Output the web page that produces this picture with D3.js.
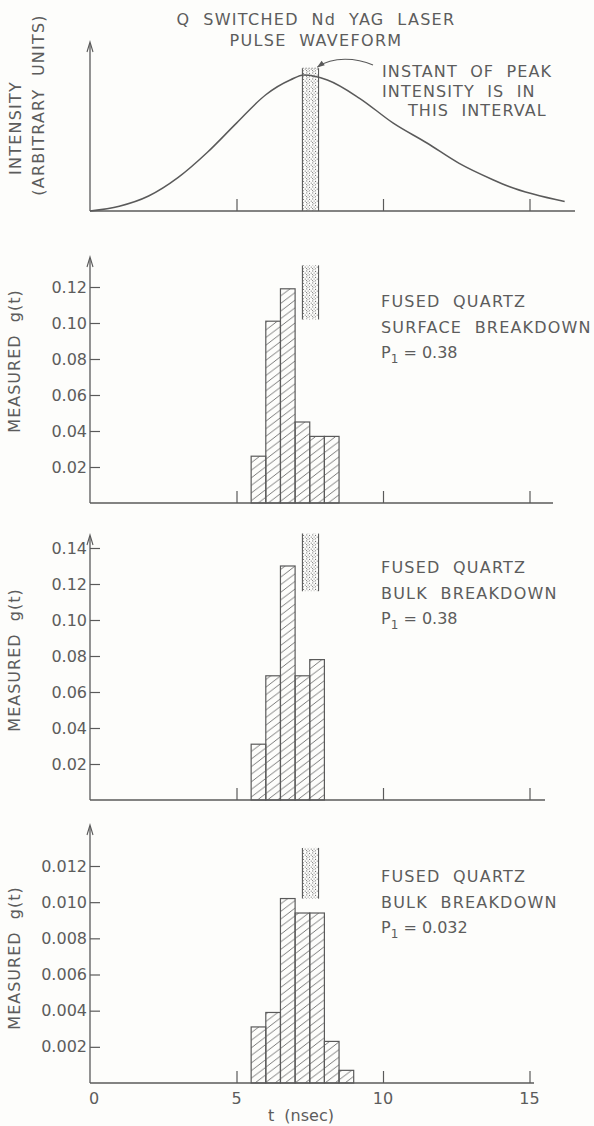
<!DOCTYPE html>
<html>
<head>
<meta charset="utf-8">
<script src="https://cdn.jsdelivr.net/npm/d3@7"></script>
<style>
  html, body { margin: 0; padding: 0; background: #fdfdfb; }
  svg { display: block; }
  text { font-family: "DejaVu Sans", "Liberation Sans", sans-serif; fill: #5c5c5c; }
</style>
</head>
<body>
<svg id="chart" width="594" height="1126"></svg>
<script>
// ---- data ----
// Q-switched Nd:YAG pulse waveform (time in ns, intensity in arbitrary units)
const pulseTime      = [0, 1, 2, 3, 4, 5, 6, 6.85, 7.3, 8.1, 9.2, 10.35, 11.5, 12.6, 13.75, 14.3, 16.2];
const pulseIntensity = [0, 0.035, 0.11, 0.245, 0.43, 0.646, 0.855, 0.965, 1.0, 0.963, 0.829, 0.646, 0.5, 0.35, 0.23, 0.18, 0.07];

// histogram bins: 0.5 ns wide, starting at these times
const binStarts = [5.5, 6.0, 6.5, 7.0, 7.5, 8.0, 8.5];
const binWidth = 0.5;

// measured g(t) for each case
const surfaceG  = [0.026, 0.101, 0.119, 0.045, 0.037, 0.037];
const bulkHighG = [0.031, 0.069, 0.130, 0.069, 0.078];
const bulkLowG  = [0.0031, 0.0039, 0.0102, 0.0094, 0.0094, 0.0023, 0.0007];

// interval containing the instant of peak intensity (ns)
const peakInterval = [7.25, 7.8];
// vertical span of the peak-interval marker in each histogram (g units)
const surfaceMarker  = [0.102, 0.132];
const bulkHighMarker = [0.116, 0.148];
const bulkLowMarker  = [0.0102, 0.0130];

// tick values
const timeTicks = [5, 10, 15];
const timeTickLabels = ["0", "5", "10", "15"];
const surfaceTicks  = [0.02, 0.04, 0.06, 0.08, 0.10, 0.12];
const bulkHighTicks = [0.02, 0.04, 0.06, 0.08, 0.10, 0.12, 0.14];
const bulkLowTicks  = [0.002, 0.004, 0.006, 0.008, 0.010, 0.012];

// labels
const titleLines = ["Q  SWITCHED  Nd  YAG  LASER", "PULSE  WAVEFORM"];
const noteLines = ["INSTANT  OF  PEAK", "INTENSITY  IS  IN", "THIS  INTERVAL"];
const panelNotes = [
  { l1: "FUSED  QUARTZ", l2: "SURFACE  BREAKDOWN", p: "0.38" },
  { l1: "FUSED  QUARTZ", l2: "BULK  BREAKDOWN", p: "0.38" },
  { l1: "FUSED  QUARTZ", l2: "BULK  BREAKDOWN", p: "0.032" }
];

// ---- drawing ----
const ink = "#5a5a5a";
const svg = d3.select("#chart");
const defs = svg.append("defs");

// diagonal hatching for histogram bars
const hatch = defs.append("pattern")
  .attr("id", "hatch").attr("patternUnits", "userSpaceOnUse")
  .attr("width", 10).attr("height", 7.6);
hatch.append("path")
  .attr("d", "M0,7.6 L10,0 M-2,1.52 L2,-1.52 M8,9.12 L12,6.08")
  .attr("stroke", "#6a6a6a").attr("stroke-width", 0.9).attr("fill", "none");

// stipple for the peak-interval marker
const stip = defs.append("pattern")
  .attr("id", "stipple").attr("patternUnits", "userSpaceOnUse")
  .attr("width", 6).attr("height", 6);
[[0.8, 0.9], [3.6, 1.4], [5.2, 3.1], [2.1, 3.0], [0.6, 4.6], [3.4, 4.8], [1.9, 5.7]].forEach(([cx, cy]) => {
  stip.append("circle").attr("cx", cx).attr("cy", cy).attr("r", 0.55).attr("fill", "#666");
});

const x = d3.scaleLinear().domain([0, 15]).range([90, 529.5]);

function yAxisLine(g, base, top) {
  g.append("line").attr("x1", x(0)).attr("x2", x(0)).attr("y1", base).attr("y2", top + 2)
    .attr("stroke", ink).attr("stroke-width", 1.3);
  g.append("path")
    .attr("d", `M${x(0) - 3},${top + 10} L${x(0)},${top} L${x(0) + 3},${top + 10}`)
    .attr("fill", "none").attr("stroke", ink).attr("stroke-width", 1.1);
}

function xBaseline(g, base, end) {
  g.append("line").attr("x1", x(0)).attr("x2", end).attr("y1", base).attr("y2", base)
    .attr("stroke", ink).attr("stroke-width", 1.4);
  const ax = d3.axisBottom(x).tickValues(timeTicks).tickSize(-12).tickFormat("");
  const a = g.append("g").attr("transform", `translate(0,${base})`).call(ax);
  a.select(".domain").remove();
  a.selectAll(".tick line").attr("stroke", ink).attr("stroke-width", 1.2);
}

function rotLabel(g, cx, cy, txt, spacing) {
  g.append("text")
    .attr("transform", `translate(${cx},${cy}) rotate(-90)`)
    .attr("text-anchor", "middle").attr("dy", "0.36em")
    .attr("font-size", 16).attr("letter-spacing", spacing)
    .style("white-space", "pre")
    .text(txt);
}

function marker(g, y, span) {
  const x0 = x(peakInterval[0]), x1 = x(peakInterval[1]);
  const yt = y(span[1]), yb = y(span[0]);
  g.append("rect").attr("x", x0).attr("y", yt).attr("width", x1 - x0).attr("height", yb - yt)
    .attr("fill", "url(#stipple)");
  [x0, x1].forEach(xx => g.append("line").attr("x1", xx).attr("x2", xx).attr("y1", yt).attr("y2", yb)
    .attr("stroke", ink).attr("stroke-width", 1.1));
}

// ---- top panel: pulse waveform ----
{
  const g = svg.append("g");
  const base = 211;
  const y = d3.scaleLinear().domain([0, 1]).range([base, 75]);

  titleLines.forEach((t, i) => {
    g.append("text").attr("x", 316).attr("y", 25 + i * 21)
      .attr("text-anchor", "middle").attr("font-size", 16)
      .attr("letter-spacing", 1.3).style("white-space", "pre").text(t);
  });

  rotLabel(g, 15, 128, "INTENSITY", 1.2);
  rotLabel(g, 38, 105, "(ARBITRARY  UNITS)", 1.2);

  yAxisLine(g, base, 42);
  xBaseline(g, base, 575);

  // peak-interval marker runs from the baseline to just above the curve
  marker(g, y, [0, 1.05]);
  g.append("line").attr("x1", x(peakInterval[0])).attr("x2", x(peakInterval[1]))
    .attr("y1", y(1.05)).attr("y2", y(1.05)).attr("stroke", "#777").attr("stroke-width", 0.8)
    .attr("stroke-dasharray", "1.5,1.5");

  const line = d3.line().x((d, i) => x(pulseTime[i])).y(d => y(d)).curve(d3.curveMonotoneX);
  g.append("path").datum(pulseIntensity).attr("d", line)
    .attr("fill", "none").attr("stroke", ink).attr("stroke-width", 1.5);

  noteLines.forEach((t, i) => {
    g.append("text").attr("x", i === 2 ? 408 : 382).attr("y", 77 + i * 19.5)
      .attr("font-size", 16).attr("letter-spacing", 1.1).style("white-space", "pre").text(t);
  });

  // curved pointer from the note to the marker
  defs.append("marker").attr("id", "head").attr("viewBox", "0 0 10 10")
    .attr("refX", 9).attr("refY", 5).attr("markerWidth", 9).attr("markerHeight", 7)
    .attr("orient", "auto")
    .append("path").attr("d", "M0,1.5 L10,5 L0,8.5 Z").attr("fill", ink);
  g.append("path")
    .attr("d", `M373,65 C357,58 333,56 ${x(peakInterval[1]) - 1},67`)
    .attr("fill", "none").attr("stroke", ink).attr("stroke-width", 1.1)
    .attr("marker-end", "url(#head)");
}

// ---- histogram panels ----
const panels = [
  { values: surfaceG,  ticks: surfaceTicks,  fmt: ".2f", domMax: 0.12,  base: 503,  topTick: 287, arrowTop: 257, end: 553, span: surfaceMarker,  note: panelNotes[0], noteY: 307, labelY: 361 },
  { values: bulkHighG, ticks: bulkHighTicks, fmt: ".2f", domMax: 0.14,  base: 800,  topTick: 548, arrowTop: 535, end: 545, span: bulkHighMarker, note: panelNotes[1], noteY: 573, labelY: 660 },
  { values: bulkLowG,  ticks: bulkLowTicks,  fmt: ".3f", domMax: 0.012, base: 1083, topTick: 866, arrowTop: 825, end: 534, span: bulkLowMarker,  note: panelNotes[2], noteY: 882, labelY: 958 }
];

panels.forEach((p) => {
  const g = svg.append("g");
  const y = d3.scaleLinear().domain([0, p.domMax]).range([p.base, p.topTick]);

  // bars
  g.selectAll("rect.bar").data(p.values).join("rect").attr("class", "bar")
    .attr("x", (d, i) => x(binStarts[i]))
    .attr("width", (d, i) => x(binStarts[i] + binWidth) - x(binStarts[i]))
    .attr("y", d => y(d))
    .attr("height", d => p.base - y(d))
    .attr("fill", "url(#hatch)")
    .attr("stroke", ink).attr("stroke-width", 1.2);

  marker(g, y, p.span);

  yAxisLine(g, p.base, p.arrowTop);
  xBaseline(g, p.base, p.end);

  const ya = d3.axisLeft(y).tickValues(p.ticks).tickSize(-10).tickPadding(3).tickFormat(d3.format(p.fmt));
  const a = g.append("g").attr("transform", `translate(${x(0)},0)`).call(ya);
  a.select(".domain").remove();
  a.selectAll(".tick line").attr("stroke", ink).attr("stroke-width", 1.2);
  a.selectAll(".tick text").attr("font-size", 16).attr("fill", "#5c5c5c")
    .attr("font-family", "DejaVu Sans, sans-serif");

  rotLabel(g, 14, p.labelY, "MEASURED  g(t)", 1.0);

  const n = g.append("g").attr("transform", `translate(381,${p.noteY})`);
  n.append("text").attr("y", 0).attr("font-size", 16).attr("letter-spacing", 1.2).style("white-space", "pre").text(p.note.l1);
  n.append("text").attr("y", 26).attr("font-size", 16).attr("letter-spacing", 1.2).style("white-space", "pre").text(p.note.l2);
  const pt = n.append("text").attr("y", 51).attr("font-size", 16);
  pt.append("tspan").text("P");
  pt.append("tspan").attr("font-size", 12).attr("dy", 5).text("1");
  pt.append("tspan").attr("dy", -5).style("white-space", "pre").text(" = " + p.note.p);
});

// time labels under the last panel
{
  const g = svg.append("g");
  g.selectAll("text.tl").data(timeTickLabels).join("text").attr("class", "tl")
    .attr("x", d => x(+d)).attr("dx", d => d === "0" ? 4 : 0).attr("y", 1104)
    .attr("text-anchor", "middle").attr("font-size", 16).text(d => d);
  g.append("text").attr("x", x(7.2)).attr("y", 1121).attr("text-anchor", "middle")
    .attr("font-size", 16).style("white-space", "pre").text("t  (nsec)");
}
</script>
</body>
</html>
